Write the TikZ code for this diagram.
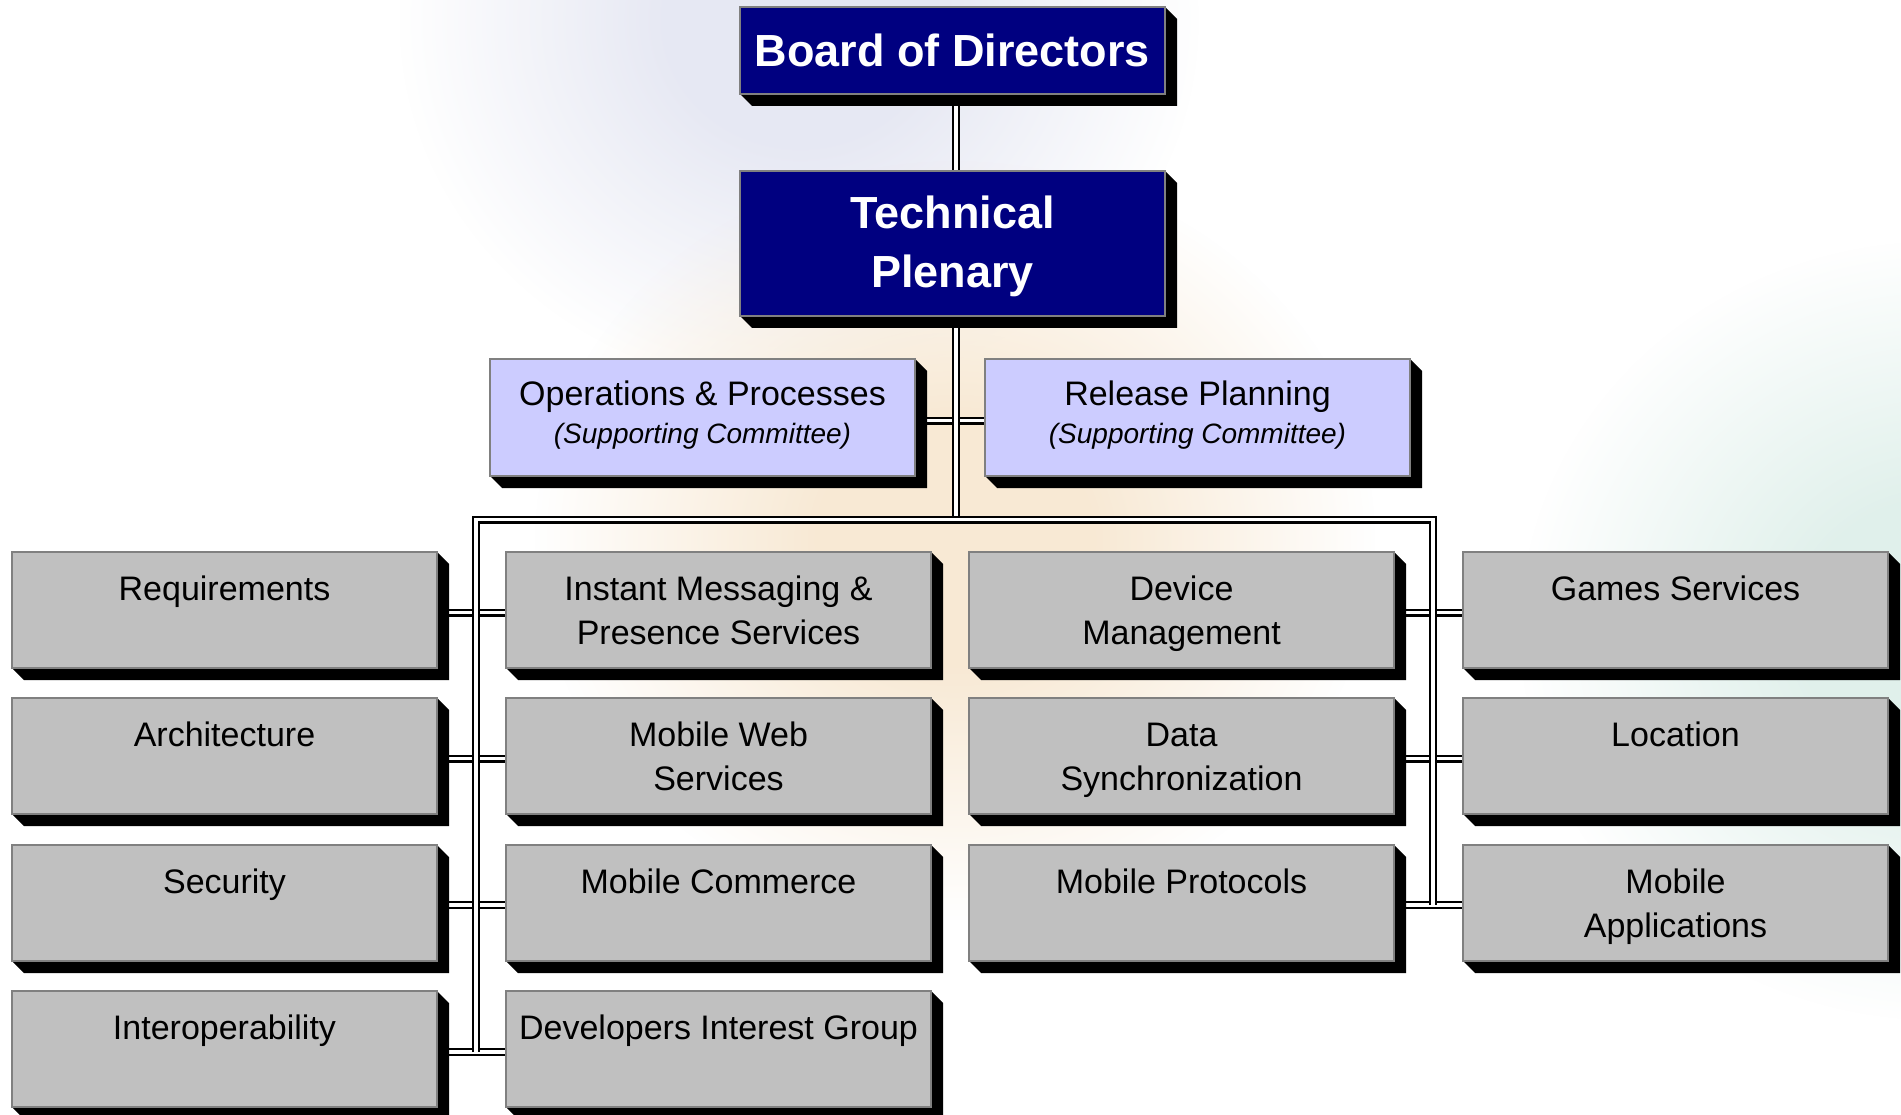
\documentclass[tikz,border=0pt]{standalone}
\usepackage{fontspec}
\setmainfont{Liberation Sans}
\usetikzlibrary{calc,fadings}
\definecolor{navybox}{HTML}{000080}
\definecolor{lavbox}{HTML}{CCCCFF}
\definecolor{graybox}{HTML}{C0C0C0}
\definecolor{edgegray}{HTML}{808080}
\definecolor{peachc}{HTML}{F8E9D4}
\definecolor{bluec}{HTML}{E6E8F3}
\definecolor{greenc}{HTML}{E0F0EB}
\pgfdeclarelayer{bglayer}
\pgfdeclarelayer{linelayer}
\pgfdeclarelayer{shadowlayer}
\pgfsetlayers{bglayer,linelayer,shadowlayer,main}
\pgfdeclareradialshading{glowmask}{\pgfpointorigin}{color(0bp)=(white); color(8bp)=(white); color(25bp)=(black); color(50bp)=(black)}
\pgfdeclarefading{glow}{\pgfuseshading{glowmask}}
\newcommand{\boxtext}[3]{\parbox[t][#1][t]{425pt}{\centering\rule{0pt}{#2}#3}}
\newcommand{\dropshadow}[1]{\fill[black] (#1.north east) -- ($(#1.north east)+(12,12)$) -- ($(#1.south east)+(12,12)$) -- ($(#1.south west)+(12,12)$) -- (#1.south west) -- (#1.south east) -- cycle;}
\tikzset{
  orgbox/.style={rectangle, draw=edgegray, line width=2.5pt, inner sep=0pt, outer sep=0pt, anchor=north west},
  greybox/.style={orgbox, fill=graybox, font=\fontsize{34}{44}\selectfont},
  lavnode/.style={orgbox, fill=lavbox, font=\fontsize{34}{38}\selectfont},
  navynode/.style={orgbox, fill=navybox, text=white, font=\fontsize{45}{59}\selectfont\bfseries},
  dbl/.style={draw=black, line width=2.3pt, double=white, double distance=3.4pt},
}
\begin{document}
\begin{tikzpicture}[x=1pt,y=-1pt]
\useasboundingbox (0,0) rectangle (1901,1115);
% background glows
\begin{pgfonlayer}{bglayer}
  \fill[white] (0,0) rectangle (1901,1115);
  \fill[bluec, path fading=glow] (800,20) ellipse [x radius=400pt, y radius=370pt];
  \fill[peachc, path fading=glow] (955,540) ellipse [x radius=420pt, y radius=380pt];
  \fill[greenc, path fading=glow] (1940,630) ellipse [x radius=420pt, y radius=390pt];
\end{pgfonlayer}

% boxes
\node[navynode] (bod) at (740,7) {\boxtext{87pt}{60pt}{Board of Directors}};
\node[navynode] (tp) at (740,171) {\boxtext{145pt}{58pt}{Technical\\Plenary}};
\node[lavnode] (ops) at (490,359) {\boxtext{117pt}{46pt}{Operations \& Processes\\{\fontsize{28}{38}\selectfont\itshape (Supporting Committee)}}};
\node[lavnode] (rel) at (985,359) {\boxtext{117pt}{46pt}{Release Planning\\{\fontsize{28}{38}\selectfont\itshape (Supporting Committee)}}};

\node[greybox] (req) at (12,552) {\boxtext{116pt}{48pt}{Requirements}};
\node[greybox] (arch) at (12,698) {\boxtext{116pt}{48pt}{Architecture}};
\node[greybox] (sec) at (12,845) {\boxtext{116pt}{48pt}{Security}};
\node[greybox] (interop) at (12,991) {\boxtext{116pt}{48pt}{Interoperability}};

\node[greybox] (imps) at (506,552) {\boxtext{116pt}{48pt}{Instant Messaging \&\\Presence Services}};
\node[greybox] (mws) at (506,698) {\boxtext{116pt}{48pt}{Mobile Web\\Services}};
\node[greybox] (mcom) at (506,845) {\boxtext{116pt}{48pt}{Mobile Commerce}};
\node[greybox] (dig) at (506,991) {\boxtext{116pt}{48pt}{Developers Interest Group}};

\node[greybox] (devm) at (969,552) {\boxtext{116pt}{48pt}{Device\\Management}};
\node[greybox] (dsync) at (969,698) {\boxtext{116pt}{48pt}{Data\\Synchronization}};
\node[greybox] (mprot) at (969,845) {\boxtext{116pt}{48pt}{Mobile Protocols}};

\node[greybox] (games) at (1463,552) {\boxtext{116pt}{48pt}{Games Services}};
\node[greybox] (loc) at (1463,698) {\boxtext{116pt}{48pt}{Location}};
\node[greybox] (mapps) at (1463,845) {\boxtext{116pt}{48pt}{Mobile\\Applications}};

% shadows
\begin{pgfonlayer}{shadowlayer}
  \foreach \n in {bod,tp,ops,rel,req,arch,sec,interop,imps,mws,mcom,dig,devm,dsync,mprot,games,loc,mapps}{\dropshadow{\n}}
\end{pgfonlayer}

% connectors
\coordinate (spine) at (956,0);
\coordinate (opsy) at (0,420.5);
\coordinate (busTL) at (476,519.5);
\coordinate (busTR) at (1433,519.5);
\coordinate (r1) at (0,612.5);
\coordinate (r2) at (0,758.5);
\coordinate (r3) at (0,905);
\coordinate (r4) at (0,1052);
\begin{pgfonlayer}{linelayer}
  \draw[dbl] (bod.south -| spine) -- (tp.north -| spine);
  \draw[dbl] (ops.east |- opsy) -- (rel.west |- opsy);
  \draw[dbl] (tp.south -| spine) -- (spine |- busTL);
  \draw[dbl] (req.east |- r1) -- (imps.west |- r1);
  \draw[dbl] (arch.east |- r2) -- (mws.west |- r2);
  \draw[dbl] (sec.east |- r3) -- (mcom.west |- r3);
  \draw[dbl] (interop.east |- r4) -- (dig.west |- r4);
  \draw[dbl] (devm.east |- r1) -- (games.west |- r1);
  \draw[dbl] (dsync.east |- r2) -- (loc.west |- r2);
  \draw[dbl] (mprot.east |- r3) -- (mapps.west |- r3);
  \draw[dbl] (busTL |- r4) -- (busTL) -- (busTR) -- (busTR |- r3);
\end{pgfonlayer}
\end{tikzpicture}
\end{document}
